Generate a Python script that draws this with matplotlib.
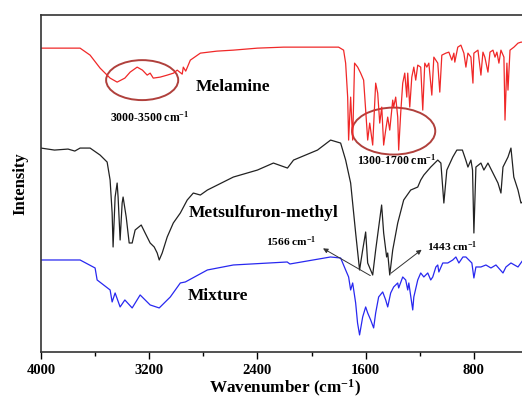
import matplotlib
matplotlib.use("Agg")
import matplotlib.pyplot as plt
from matplotlib.patches import Ellipse
from matplotlib.ticker import MultipleLocator

plt.rcParams['font.family'] = ['Liberation Serif', 'DejaVu Serif']
plt.rcParams['font.weight'] = 'bold'
plt.rcParams['axes.labelweight'] = 'bold'
plt.rcParams['mathtext.fontset'] = 'custom'
plt.rcParams['mathtext.rm'] = 'Liberation Serif:bold'
plt.rcParams['mathtext.bf'] = 'Liberation Serif:bold'
plt.rcParams['mathtext.default'] = 'bf'

# Melamine (red), wavenumber / intensity (arbitrary, offset)
mel_wn = [4000, 3859, 3711, 3637, 3563, 3489, 3437, 3380, 3341, 3289, 3250, 3215,
          3193, 3170, 3119, 3067, 3020, 2993, 2956, 2948, 2930, 2896, 2822, 2700,
          2578, 2400, 2207, 2000, 1800, 1763, 1748, 1733, 1726, 1711, 1696, 1682,
          1659, 1637, 1615, 1600, 1585, 1570, 1548, 1526, 1511, 1496, 1481, 1467,
          1452, 1437, 1422, 1400, 1393, 1378, 1363, 1356, 1341, 1326, 1311, 1296,
          1289, 1274, 1259, 1244, 1230, 1215, 1193, 1178, 1163, 1148, 1133, 1111,
          1096, 1067, 1052, 1037, 1007, 985, 963, 948, 941, 919, 896, 874, 859,
          844, 822, 807, 800, 770, 748, 733, 719, 696, 681, 659, 644, 630, 615,
          600, 578, 570, 556, 548, 533, 504, 474, 452, 420, 400]
mel_y = [304, 304, 304, 297, 284, 274, 270, 274, 280, 285, 282, 277,
         279, 274, 275, 277, 279, 282, 278, 285, 281, 292, 299, 301,
         302, 304, 305, 305, 305, 302, 289, 255, 212, 255, 212, 289,
         285, 279, 272, 242, 212, 229, 207, 269, 259, 229, 245, 207,
         222, 235, 222, 252, 245, 255, 235, 202, 239, 269, 279, 255,
         279, 245, 275, 285, 272, 287, 285, 242, 289, 285, 289, 257,
         295, 289, 260, 297, 299, 300, 292, 299, 290, 305, 307, 299, 285,
         299, 295, 269, 299, 302, 277, 300, 295, 280, 300, 302, 295, 300, 289,
         302, 295, 232, 289, 262, 302, 305, 309, 310, 310, 310]

# Metsulfuron-methyl (black)
met_wn = [4000, 3900, 3800, 3750, 3711, 3637, 3563, 3511, 3489, 3474, 3467, 3452,
          3437, 3430, 3415, 3400, 3393, 3370, 3348, 3326, 3304, 3259, 3230, 3193,
          3163, 3141, 3126, 3104, 3067, 3022, 2970, 2919, 2874, 2822, 2770, 2578,
          2400, 2282, 2178, 2133, 1956, 1859, 1785, 1748, 1711, 1674, 1645, 1622,
          1600, 1585, 1548, 1526, 1482, 1467, 1445, 1437, 1422, 1400, 1363, 1319,
          1267, 1215, 1193, 1170, 1119, 1067, 1044, 1022, 1000, 956, 926, 885, 860,
          844, 822, 810, 800, 785, 748, 726, 696, 659, 622, 600, 585, 548, 526,
          505, 474, 452, 420]
met_y = [204, 202, 203, 201, 204, 204, 197, 190, 172, 139, 105, 155,
         169, 155, 112, 149, 155, 135, 109, 109, 122, 127, 119, 109,
         105, 99, 92, 99, 115, 129, 139, 152, 159, 157, 162, 175,
         182, 189, 184, 192, 202, 212, 209, 192, 169, 119, 82, 102,
         120, 89, 77, 102, 147, 119, 95, 99, 77, 102, 129, 152,
         162, 165, 172, 177, 185, 192, 189, 149, 182, 195, 202, 202, 192,
         185, 192, 182, 119, 185, 189, 182, 189, 179, 169, 159, 185, 195, 204,
         175, 162, 149, 152]

# Mixture (blue)
mix_wn = [4000, 3711, 3600, 3585, 3489, 3474, 3452, 3415, 3380, 3326, 3267, 3193,
          3126, 3044, 2970, 2933, 2770, 2578, 2180, 2160, 1860, 1785, 1748, 1726,
          1711, 1696, 1674, 1660, 1645, 1622, 1600, 1585, 1563, 1541, 1526, 1504,
          1474, 1452, 1437, 1415, 1393, 1363, 1356, 1326, 1304, 1289, 1281, 1252,
          1244, 1215, 1193, 1170, 1141, 1119, 1104, 1081, 1067, 1059, 1030, 993,
          956, 933, 911, 881, 859, 837, 815, 800, 785, 748, 711, 674, 637, 585,
          563, 526, 474, 437, 400]
mix_y = [92, 92, 84, 72, 62, 50, 59, 45, 52, 44, 57, 47,
         44, 55, 69, 70, 82, 87, 90, 88, 95, 94, 82, 75,
         62, 69, 49, 29, 17, 35, 45, 39, 32, 24, 39, 55,
         60, 52, 45, 59, 65, 69, 64, 75, 72, 62, 69, 42,
         55, 72, 79, 75, 79, 72, 75, 85, 87, 80, 89, 89,
         92, 95, 89, 95, 95, 92, 89, 74, 85, 85, 87, 84, 87, 79,
         85, 89, 85, 92, 94]

fig = plt.figure(figsize=(5.22, 3.99), dpi=100)
ax = fig.add_axes([0.0785, 0.118, 0.933, 0.844])

ax.plot(mel_wn, mel_y, color='#f02828', lw=0.9)
ax.plot(met_wn, met_y, color='#222222', lw=0.9)
ax.plot(mix_wn, mix_y, color='#2828f0', lw=0.9)

ax.add_patch(Ellipse((3252, 272), 533, 40, fill=False, edgecolor='#b0403c', lw=1.4))
ax.add_patch(Ellipse((1393, 221), 615, 47, fill=False, edgecolor='#b0403c', lw=1.4))

ax.text(2578, 265, 'Melamine', fontsize=12.5, ha='center', va='center')
ax.text(3193, 235, '3000-3500 cm$^{-1}$', fontsize=8.5, ha='center', va='center')
ax.text(1370, 192, '1300-1700 cm$^{-1}$', fontsize=8.5, ha='center', va='center')
ax.text(2356, 139, 'Metsulfuron-methyl', fontsize=12.5, ha='center', va='center')
ax.text(2689, 56, 'Mixture', fontsize=12.5, ha='center', va='center')

ax.annotate('', xy=(1933, 105), xytext=(1548, 75),
            arrowprops=dict(arrowstyle='-|>', color='#333333', lw=0.7, mutation_scale=7))
ax.text(2148, 110, '1566 cm$^{-1}$', fontsize=8.2, ha='center', va='center')
ax.annotate('', xy=(1170, 104), xytext=(1430, 77),
            arrowprops=dict(arrowstyle='-|>', color='#333333', lw=0.7, mutation_scale=7))
ax.text(1148, 105, '1443 cm$^{-1}$', fontsize=8.2, ha='left', va='center')

ax.set_xlim(4000, 400)
ax.set_ylim(0, 337)
ax.xaxis.set_major_locator(MultipleLocator(800))
ax.xaxis.set_minor_locator(MultipleLocator(400))
ax.set_yticks([])
ax.tick_params(axis='x', which='major', length=5, width=1, labelsize=10.5, direction='out')
ax.tick_params(axis='x', which='minor', length=3, width=1, direction='out')
for lbl in ax.get_xticklabels():
    lbl.set_fontweight('bold')
for s in ax.spines.values():
    s.set_linewidth(1.2)
    s.set_color('#333333')

ax.set_xlabel('Wavenumber (cm$^{-1}$)', fontsize=12.3, labelpad=1)
ax.set_ylabel('Intensity', fontsize=12, labelpad=9)

fig.savefig('out.png', dpi=100)
